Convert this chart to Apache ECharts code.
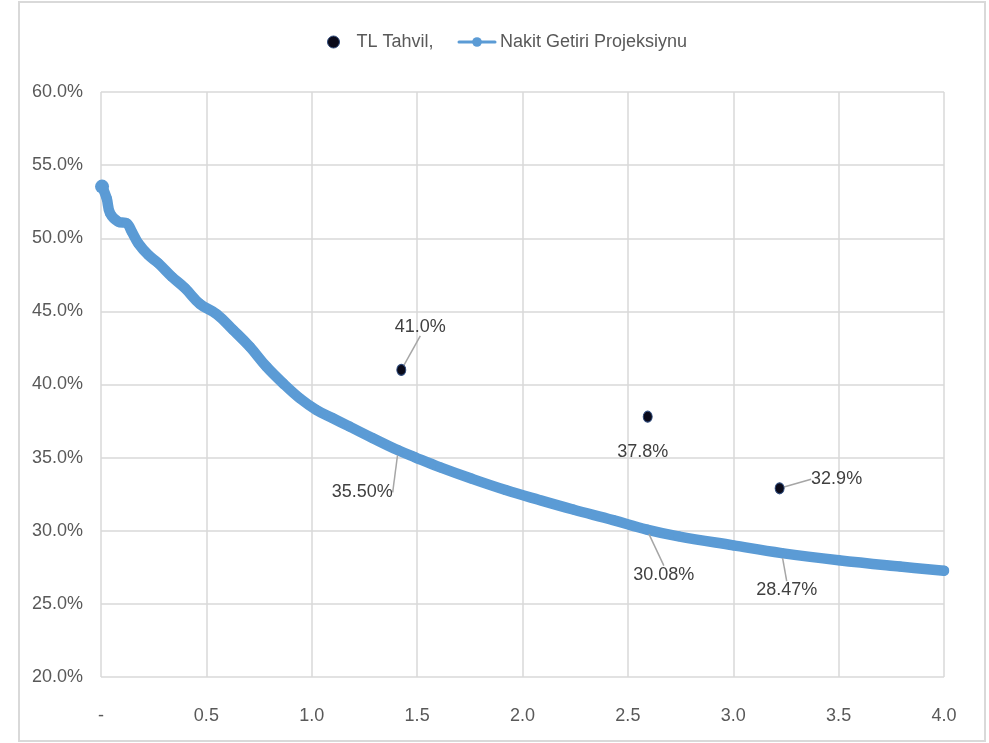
<!DOCTYPE html>
<html>
<head>
<meta charset="utf-8">
<script src="https://cdn.jsdelivr.net/npm/echarts@6/dist/echarts.min.js"></script>
<style>
  html, body { margin: 0; padding: 0; background: #fff; }
  #chart { width: 989px; height: 743px; }
</style>
</head>
<body>
<div id="chart"></div>
<script>
// Nakit Getiri Projeksiynu (curve), x = years, y = %
const curveX = [0.005, 0.027, 0.043, 0.082, 0.122, 0.146, 0.177, 0.225, 0.272, 0.336,
  0.399, 0.47, 0.55, 0.627, 0.706, 0.785, 0.864, 0.943, 1.022, 1.10,
  1.18, 1.29, 1.41, 1.49, 1.61, 1.76, 1.92, 2.08, 2.24, 2.43,
  2.59, 2.74, 3.00, 3.23, 3.50, 3.79, 4.00];
const curveY = [53.53, 52.73, 51.71, 51.13, 51.02, 50.45, 49.65, 48.85, 48.29, 47.37,
  46.58, 45.50, 44.80, 43.73, 42.58, 41.22, 40.08, 39.06, 38.26, 37.69,
  37.12, 36.33, 35.50, 35.02, 34.33, 33.55, 32.78, 32.10, 31.45, 30.73,
  30.08, 29.62, 29.00, 28.47, 27.98, 27.55, 27.27];
// indices of curve points that carry a data label
const curveLabelIdx = [22, 30, 33];

// TL Tahvil, points
const tahvilX = [1.425, 2.594, 3.22];
const tahvilY = [41.0, 37.8, 32.9];

const labelFont = 'Liberation Sans';
const axisColor = '#595959';
const labelColor = '#404040';

// label offsets (px) from the point
const curveLabelShift = { 22: [-36, 42], 30: [17, 45], 33: [5, 37] };
const tahvilLabelShift = [[19, -43], [-5, 35], [57, -9]];

const chart = echarts.init(document.getElementById('chart'));

const curveData = curveX.map((x, i) => {
  const item = { value: [x, curveY[i]] };
  if (i === 0) item.symbolSize = 14;
  if (curveLabelIdx.includes(i)) {
    item.label = { show: true };
  }
  return item;
});

const tahvilData = tahvilX.map((x, i) => {
  const item = { value: [x, tahvilY[i]] };
  if (i === 1) item.labelLine = { show: false };
  return item;
});

const dataLabel = {
  position: 'inside',
  fontFamily: labelFont,
  fontSize: 18,
  color: labelColor,
  textBorderWidth: 0
};

const option = {
  backgroundColor: '#fff',
  textStyle: { fontFamily: labelFont },
  graphic: [{
    type: 'rect',
    shape: { x: 19, y: 2, width: 966, height: 739 },
    style: { fill: 'none', stroke: '#d9d9d9', lineWidth: 2 },
    silent: true
  }],
  legend: {
    top: 28,
    left: 322,
    itemGap: 24,
    itemWidth: 36,
    itemHeight: 12,
    textStyle: { fontFamily: labelFont, fontSize: 18, color: axisColor },
    data: [
      { name: 'TL Tahvil,', icon: 'circle', itemStyle: { color: '#0a0a1a', borderColor: '#2f4b7c', borderWidth: 1, opacity: 1 } },
      { name: 'Nakit Getiri Projeksiynu', lineStyle: { width: 3 }, itemStyle: { color: '#5b9bd5' } }
    ]
  },
  grid: { left: 101, right: 45, top: 92, bottom: 66, containLabel: false },
  xAxis: {
    type: 'value',
    min: 0,
    max: 4,
    interval: 0.5,
    axisLine: { show: false },
    axisTick: { show: false },
    splitLine: { show: true, lineStyle: { color: '#d9d9d9', width: 1.5 } },
    axisLabel: {
      margin: 30,
      fontFamily: labelFont,
      fontSize: 18,
      color: axisColor,
      formatter: v => (v === 0 ? '-' : v.toFixed(1))
    }
  },
  yAxis: {
    type: 'value',
    min: 20,
    max: 60,
    interval: 5,
    axisLine: { show: false },
    axisTick: { show: false },
    splitLine: { show: true, lineStyle: { color: '#d9d9d9', width: 1.5 } },
    axisLabel: {
      margin: 18,
      fontFamily: labelFont,
      fontSize: 18,
      color: axisColor,
      formatter: v => v.toFixed(1) + '%'
    }
  },
  series: [
    {
      name: 'Nakit Getiri Projeksiynu',
      type: 'line',
      data: curveData,
      smooth: 0.4,
      symbol: 'circle',
      symbolSize: 10,
      showAllSymbol: true,
      lineStyle: { color: '#5b9bd5', width: 10.5, cap: 'round', join: 'round' },
      itemStyle: { color: '#5b9bd5' },
      label: Object.assign({ show: false, formatter: p => p.value[1].toFixed(2) + '%' }, dataLabel),
      labelLine: { show: true, lineStyle: { color: '#a6a6a6', width: 1.5 } },
      labelLayout: p => {
        const s = curveLabelShift[p.dataIndex];
        return s ? { dx: s[0], dy: s[1] } : {};
      },
      emphasis: { disabled: true },
      z: 2
    },
    {
      name: 'TL Tahvil,',
      type: 'scatter',
      data: tahvilData,
      symbol: 'circle',
      symbolSize: [9, 11],
      itemStyle: { color: '#0a0a1a', borderColor: '#2f4b7c', borderWidth: 1, opacity: 1 },
      label: Object.assign({ show: true, formatter: p => p.value[1].toFixed(1) + '%' }, dataLabel),
      labelLine: { show: true, lineStyle: { color: '#a6a6a6', width: 1.5 } },
      labelLayout: p => {
        const s = tahvilLabelShift[p.dataIndex];
        return { dx: s[0], dy: s[1] };
      },
      emphasis: { disabled: true },
      z: 3
    }
  ]
};

chart.setOption(option);
</script>
</body>
</html>
